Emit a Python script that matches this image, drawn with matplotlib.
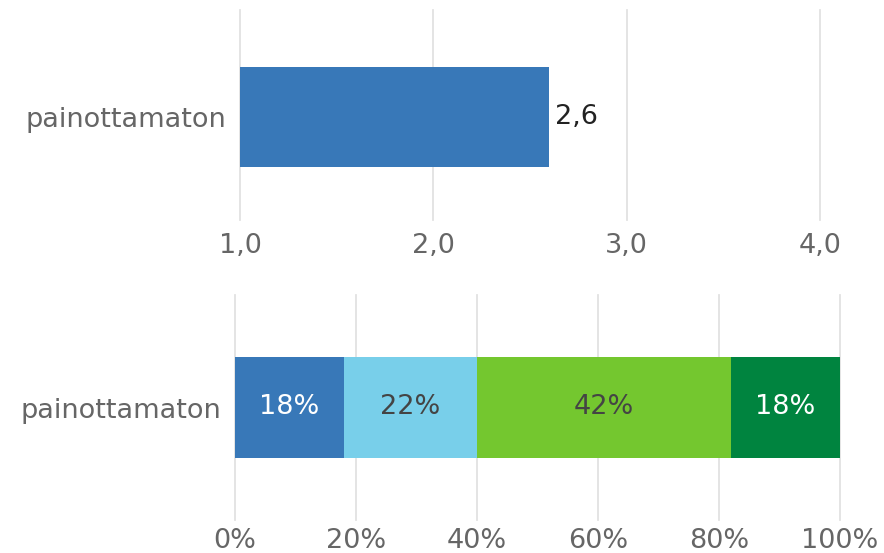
import matplotlib.pyplot as plt
from matplotlib.ticker import FuncFormatter

# data
category = "painottamaton"
mean_value = 2.6
mean_ticks = [1.0, 2.0, 3.0, 4.0]

shares = [18, 22, 42, 18]
share_colors = ["#3878b8", "#78cfea", "#74c72f", "#00843f"]
share_text_colors = ["white", "#444444", "#444444", "white"]
pct_ticks = [0, 20, 40, 60, 80, 100]

W, H = 884, 553
fig = plt.figure(figsize=(W / 100, H / 100), dpi=100)
FS = 19.5


def px_axes(x0, x1, y0, y1):
    # axes from pixel box (top-left origin)
    return fig.add_axes([x0 / W, 1 - y1 / H, (x1 - x0) / W, (y1 - y0) / H])


def style(ax, xpad):
    for s in ax.spines.values():
        s.set_visible(False)
    ax.grid(axis="x", color="#e2e2e2", linewidth=1.3)
    ax.set_axisbelow(True)
    ax.tick_params(axis="both", length=0, labelsize=FS, colors="#666666")
    ax.tick_params(axis="x", pad=xpad)
    ax.tick_params(axis="y", pad=10)


# top: mean value
ax1 = px_axes(240, 820, 10, 220)
style(ax1, 9)
ax1.barh([0], [mean_value - 1.0], left=1.0, height=0.476, color="#3878b8")
ax1.set_xlim(1.0, 4.0)
ax1.set_ylim(-0.49, 0.51)
ax1.set_xticks(mean_ticks)
ax1.xaxis.set_major_formatter(FuncFormatter(lambda v, p: f"{v:.1f}".replace(".", ",")))
ax1.set_yticks([0])
ax1.set_yticklabels([category])
ax1.text(mean_value + 0.03, 0, f"{mean_value:.1f}".replace(".", ","),
         va="center", ha="left", fontsize=FS, color="#222222")
for gl in ax1.get_xgridlines():
    gl.set_clip_on(False)

# bottom: distribution
ax2 = px_axes(235, 840, 295, 520)
style(ax2, 6)
left = 0
for val, col, tc in zip(shares, share_colors, share_text_colors):
    ax2.barh([0], [val], left=left, height=0.45, color=col)
    ax2.text(left + val / 2, 0, f"{val}%", ha="center", va="center",
             fontsize=FS, color=tc)
    left += val
ax2.set_xlim(0, 100)
ax2.set_ylim(-0.5, 0.5)
ax2.set_xticks(pct_ticks)
ax2.set_xticklabels([f"{t}%" for t in pct_ticks])
ax2.set_yticks([0])
ax2.set_yticklabels([category])
for gl in ax2.get_xgridlines():
    gl.set_clip_on(False)

fig.savefig("out.png", dpi=100)
